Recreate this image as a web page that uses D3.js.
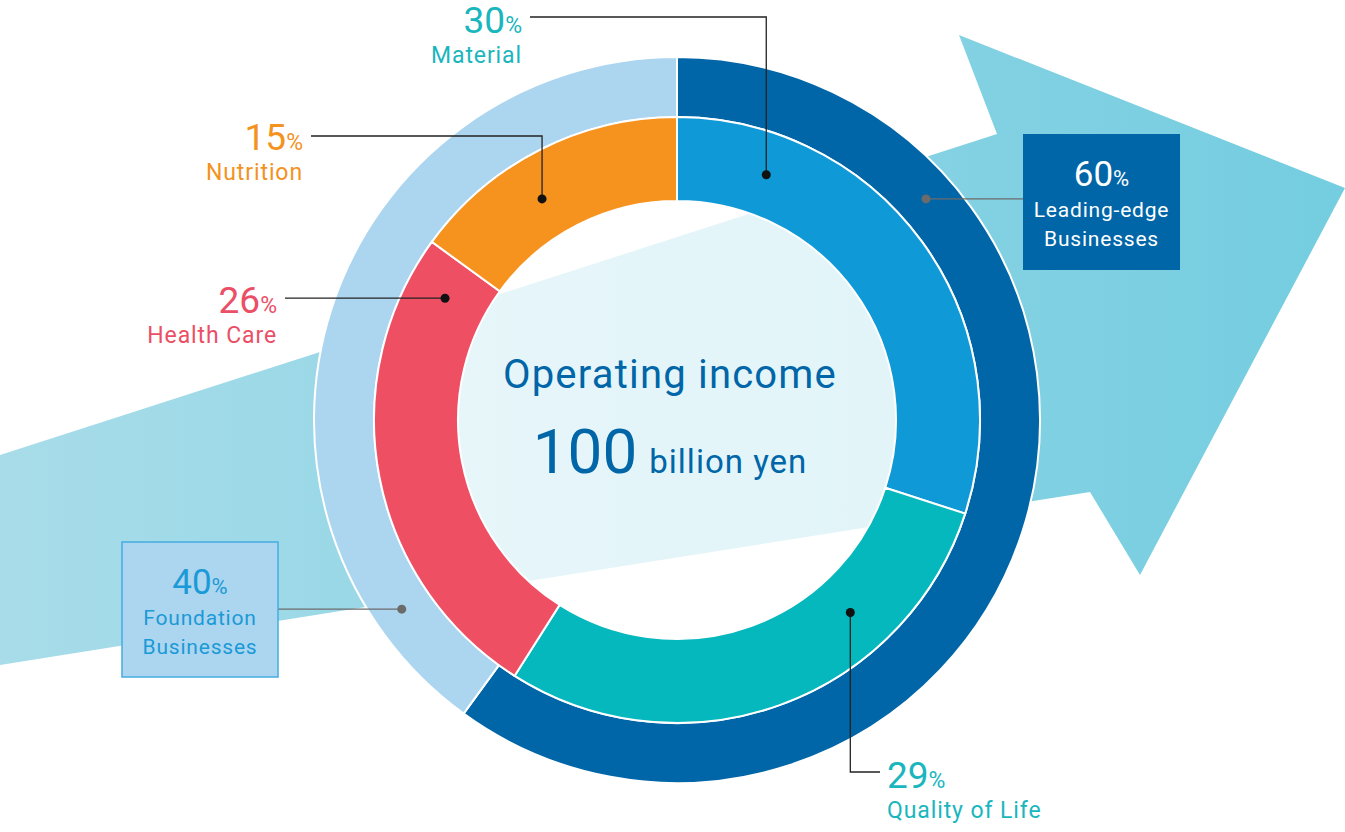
<!DOCTYPE html>
<html lang="en">
<head>
<meta charset="utf-8">
<title>Operating income</title>
<script src="https://cdn.jsdelivr.net/npm/d3@7"></script>
<style>
  body{margin:0;background:#fff;}
  svg{display:block;font-family:Roboto,"Noto Sans",sans-serif;}
  .lead{fill:none;stroke:#222;stroke-width:1.3px;}
  .lead.grey{stroke:#6b6b6b;}
</style>
</head>
<body>
<svg></svg>
<script>
// inner ring: business segments
var segNames = ["Material", "Quality of Life", "Health Care", "Nutrition"];
var segValues = [30, 29, 26, 15];
var segColors = ["#0f99d6", "#05b8bd", "#ef4f63", "#f6921e"];
var segText = ["#1ab6be", "#1ab6be", "#ea4f66", "#f3921f"];

// outer ring: business groups
var grpNames = ["Leading-edge Businesses", "Foundation Businesses"];
var grpValues = [60, 40];
var grpColors = ["#0066a8", "#acd5ef"];

var centerTitle = "Operating income";
var centerValue = "100";
var centerUnit = "billion yen";

var width = 1345, height = 832;
var cx = 677, cy = 420;
var svg = d3.select("svg").attr("width", width).attr("height", height);
var defs = svg.append("defs");

// background arrow
var grad = defs.append("linearGradient").attr("id", "arrowGrad")
  .attr("x1", 0).attr("x2", 1).attr("y1", 0).attr("y2", 0);
grad.append("stop").attr("offset", "0%").attr("stop-color", "#a8dce9");
grad.append("stop").attr("offset", "100%").attr("stop-color", "#74cde0");

var arrowPts = [[0,455],[997,134],[959,35],[1345,188],[1140,575],[1090,492],[0,665]];
svg.append("path")
  .attr("d", d3.line()(arrowPts) + "Z")
  .attr("fill", "url(#arrowGrad)");

var pie = d3.pie().sort(null).value(function(d){ return d; });
var innerArc = d3.arc().innerRadius(219).outerRadius(303);
var outerArc = d3.arc().innerRadius(303).outerRadius(363);

var g = svg.append("g").attr("transform", "translate(" + cx + "," + cy + ")");

// hole: translucent white so the arrow shows through faintly
g.append("circle").attr("r", 219).attr("fill", "#fff").attr("fill-opacity", 0.76);

g.selectAll("path.outer")
  .data(pie(grpValues))
  .enter().append("path")
  .attr("class", "outer")
  .attr("d", outerArc)
  .attr("fill", function(d, i){ return grpColors[i]; })
  .attr("stroke", "#fff").attr("stroke-width", 2);

g.selectAll("path.inner")
  .data(pie(segValues))
  .enter().append("path")
  .attr("class", "inner")
  .attr("d", innerArc)
  .attr("fill", function(d, i){ return segColors[i]; })
  .attr("stroke", "#fff").attr("stroke-width", 2);

// center text
g.append("text").attr("x", -7).attr("y", -32).attr("text-anchor", "middle")
  .attr("fill", "#0066a8").style("font-size", "40px").style("letter-spacing", "1.2px")
  .text(centerTitle);
var ct = g.append("text").attr("x", -7).attr("y", 53).attr("text-anchor", "middle")
  .attr("fill", "#0066a8");
ct.append("tspan").style("font-size", "62px").text(centerValue);
ct.append("tspan").attr("dx", 12).style("font-size", "33px").style("letter-spacing", "1px").text(centerUnit);

function pointAt(deg, r){
  var a = deg * Math.PI / 180;
  return [cx + r * Math.sin(a), cy - r * Math.cos(a)];
}

// leader lines + labels for inner segments
var segLayout = [
  {dot: pointAt(20, 261), elbow: "up", lineY: 17, tx: 522, ty: 33, anchor: "end", lineX: 530},
  {dot: pointAt(138, 259), elbow: "down", lineY: 772, tx: 887, ty: 788, anchor: "start", lineX: 880},
  {dot: pointAt(297.7, 262), elbow: "flat", tx: 277, ty: 313, anchor: "end", lineX: 285},
  {dot: pointAt(328.6, 259), elbow: "up", lineY: 136, tx: 303, ty: 150, anchor: "end", lineX: 311}
];

segLayout.forEach(function(L, i){
  var d = L.dot, pts;
  if (L.elbow === "flat") pts = [[L.lineX, d[1]], d];
  else pts = [[L.lineX, L.lineY], [d[0], L.lineY], d];
  svg.append("path").attr("class", "lead").attr("d", d3.line()(pts));
  svg.append("circle").attr("cx", d[0]).attr("cy", d[1]).attr("r", 4.5).attr("fill", "#111");

  var t = svg.append("text").attr("x", L.tx).attr("y", L.ty)
    .attr("text-anchor", L.anchor).attr("fill", segText[i]);
  t.append("tspan").style("font-size", "37px").text(segValues[i]);
  t.append("tspan").style("font-size", "23px").text("%");
  svg.append("text").attr("x", L.tx).attr("y", L.ty + 30)
    .attr("text-anchor", L.anchor).attr("fill", segText[i])
    .style("font-size", "23px").style("letter-spacing", "0.9px").text(segNames[i]);
});

// boxes for outer groups
var grpLayout = [
  {dot: pointAt(48.4, 333), box: [1023, 134, 157, 136], fill: "#0066a8", stroke: "none", text: "#fff", lineSide: "left"},
  {dot: pointAt(235.5, 334), box: [122, 542, 156, 135], fill: "#acd5ef", stroke: "#45ace0", text: "#1a9ad6", lineSide: "right"}
];

grpLayout.forEach(function(L, i){
  var b = L.box, d = L.dot;
  var lx = L.lineSide === "left" ? b[0] : b[0] + b[2];
  svg.append("path").attr("class", "lead grey").attr("d", d3.line()([[lx, d[1]], d]));
  svg.append("circle").attr("cx", d[0]).attr("cy", d[1]).attr("r", 4.5).attr("fill", "#6b6b6b");
  svg.append("rect").attr("x", b[0]).attr("y", b[1]).attr("width", b[2]).attr("height", b[3])
    .attr("fill", L.fill).attr("stroke", L.stroke).attr("stroke-width", 1.5);
  var mx = b[0] + b[2] / 2;
  var t = svg.append("text").attr("x", mx).attr("y", b[1] + 52)
    .attr("text-anchor", "middle").attr("fill", L.text);
  t.append("tspan").style("font-size", "35px").text(grpValues[i]);
  t.append("tspan").style("font-size", "22px").text("%");
  grpNames[i].split(" ").forEach(function(w, j){
    svg.append("text").attr("x", mx).attr("y", b[1] + 83 + j * 29)
      .attr("text-anchor", "middle").attr("fill", L.text)
      .style("font-size", "21px").style("letter-spacing", "0.8px").text(w);
  });
});
</script>
</body>
</html>
